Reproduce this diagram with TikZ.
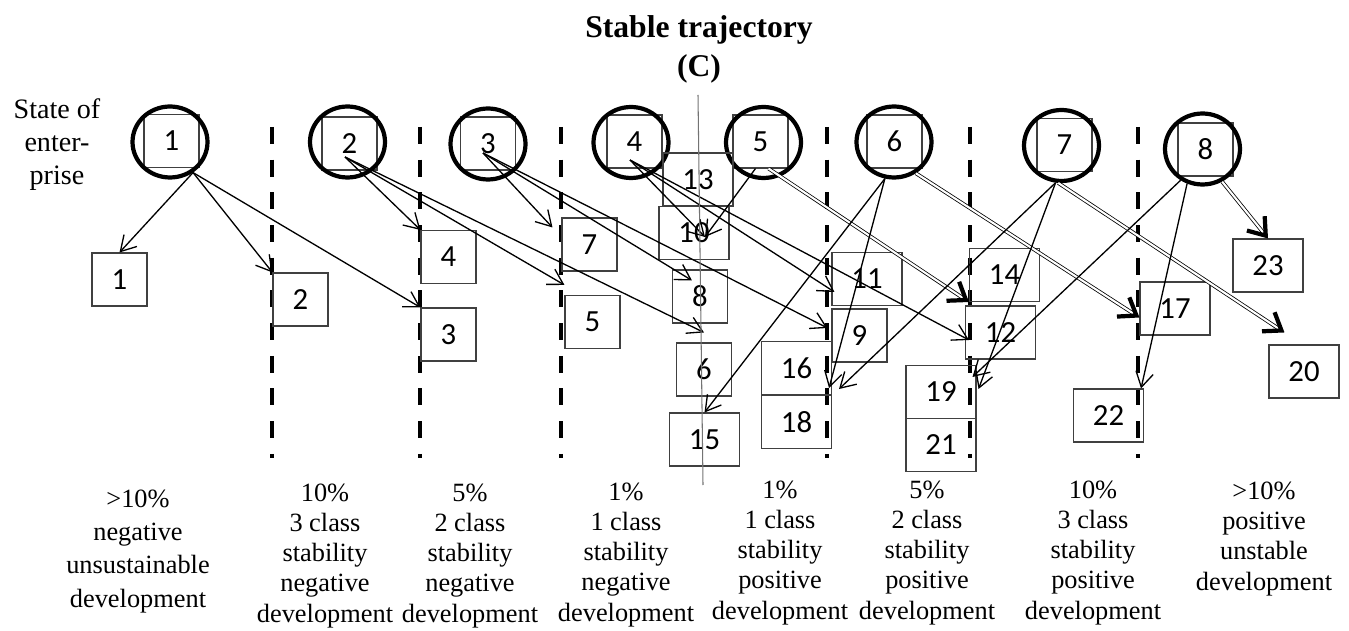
\documentclass[tikz,border=0pt]{standalone}
\usepackage{fontspec}
\setmainfont{Liberation Serif}
\newfontfamily\digitfont{Carlito}
\usetikzlibrary{arrows.meta, shapes.geometric}
\definecolor{boxgray}{RGB}{64,64,64}
\tikzset{
  state/.style={ellipse, draw, line width=2.4pt, minimum width=1.5cm, minimum height=1.42cm, inner sep=0pt},
  cell/.style={rectangle, draw=boxgray, line width=0.6pt, minimum width=1.1cm, minimum height=1.06cm, inner sep=0pt, font=\digitfont\fontsize{17.5}{20}\selectfont},
  wcell/.style={cell, minimum width=1.4cm},
  move/.style={-{Straight Barb[length=8.5pt, width=10pt]}, line width=0.75pt},
  jump/.style={double, double distance=1.2pt, line width=0.45pt, -{Straight Barb[length=9pt, width=13pt, line width=2.4pt]}},
  border/.style={line width=2.3pt, dash pattern=on 9.6pt off 9pt},
  zone/.style={align=center, anchor=base, font=\fontsize{15}{17.2}\selectfont},
}

\begin{document}
\begin{tikzpicture}[x=0.02cm, y=-0.02cm]
  \useasboundingbox (0,0) rectangle (1349,631);

  % zone borders
  \foreach \x in {272,420,561,827,970,1138}
    \draw[border] (\x,127) -- (\x,458);

  % states of the enterprise
  \foreach \n/\x/\y/\bx/\by in {1/170/142/171.5/141, 2/347.5/142/349.5/143.5, 3/488/144/488/143.5, 4/631/142.5/634.5/141.5,
      5/763.5/142.5/760.5/141.5, 6/894/142/894.5/141.5, 7/1061.5/145.5/1064.5/145, 8/1202.5/149/1205.5/149.5} {
    \node[cell] (q\n) at (\bx,\by) {\n};
    \node[state] (s\n) at (\x,\y) {};
  }

  % outcomes
  \foreach \n/\x/\y in {1/119.5/279.5, 2/300.5/299.5, 3/448.5/334.5, 4/448.5/257, 5/592.5/322,
      6/704/369.5, 7/589.5/244.5, 8/700/296.5, 9/859.5/335.5}
    \node[cell] (b\n) at (\x,\y) {\n};
  \foreach \n/\x/\y in {10/694/233, 11/867/279, 12/1000.5/332.5, 13/698/179.5, 14/1004.5/275,
      15/704.5/439.5, 16/796.5/368, 17/1175/308.5, 18/796.5/422, 19/941/392, 20/1304/371.5,
      21/941/445, 22/1108.5/415.5, 23/1268/265.5}
    \node[wcell] (b\n) at (\x,\y) {\n};

  % labels (base = last line)
  \node[align=center, anchor=base, font=\fontsize{16}{19}\selectfont] (state) at (57,185) {State of\\enter-\\prise};
  \node[align=center, anchor=base, font=\bfseries\fontsize{18}{22.7}\selectfont] (title) at (699,77) {Stable trajectory\\(C)};
  \node[zone, font=\fontsize{15}{18.9}\selectfont] (z1) at (138,607) {>10\%\\negative\\unsustainable\\development};
  \node[zone] (z2) at (325,622) {10\%\\3 class\\stability\\negative\\development};
  \node[zone] (z3) at (470,622) {5\%\\2 class\\stability\\negative\\development};
  \node[zone] (z4) at (626,621) {1\%\\1 class\\stability\\negative\\development};
  \node[zone] (z5) at (780,619) {1\%\\1 class\\stability\\positive\\development};
  \node[zone] (z6) at (927,619) {5\%\\2 class\\stability\\positive\\development};
  \node[zone] (z7) at (1093,619) {10\%\\3 class\\stability\\positive\\development};
  \node[zone] (z8) at (1264,590) {>10\%\\positive\\unstable\\development};

  % transitions
  \draw[move] (s1.-53) -- (b1.north);
  \draw[move] (s1.-53) -- (b2.north west);
  \draw[move] (s1.-53) -- (b3.north west);
  \draw[move] ([xshift=-0.09cm,yshift=-0.27cm]q2.center) -- (b4.north west);
  \draw[move] ([xshift=-0.09cm,yshift=-0.27cm]q2.center) -- ([yshift=0.2cm]b5.north west);
  \draw[move] ([xshift=-0.09cm,yshift=-0.27cm]q2.center) -- ([yshift=0.2cm]b6.north);
  \draw[move] ([xshift=-0.1cm,yshift=-0.19cm]q3.center) -- ([xshift=-0.18cm,yshift=-0.2cm]b7.north west);
  \draw[move] ([xshift=-0.1cm,yshift=-0.19cm]q3.center) -- ([xshift=0.4cm,yshift=-0.22cm]b8.north west);
  \draw[move] ([xshift=-0.1cm,yshift=-0.19cm]q3.center) -- ([xshift=-0.08cm,yshift=0.15cm]b9.west);
  \draw[move] ([xshift=-0.09cm,yshift=-0.37cm]q4.center) -- ([xshift=0.22cm,yshift=-0.08cm]b10.center);
  \draw[move] ([xshift=-0.09cm,yshift=-0.37cm]q4.center) -- ([xshift=0.06cm,yshift=-0.26cm]b11.west);
  \draw[move] ([xshift=-0.09cm,yshift=-0.37cm]q4.center) -- ([xshift=0.08cm,yshift=-0.15cm]b12.west);
  \draw[move] ([xshift=-0.1cm]q5.south) -- ([xshift=0.22cm,yshift=-0.08cm]b10.center);
  \draw[jump] ([xshift=0.16cm]q5.south) -- (b14.south west);
  \draw[move] (s6.-104) -- (b15.north);
  \draw[move] (s6.-104) -- ([xshift=-0.06cm,yshift=0.14cm]b16.south east);
  \draw[jump] (s6.-55) -- ([yshift=-0.18cm]b17.west);
  \draw[move] (s7.-99) -- ([xshift=0.14cm,yshift=0.12cm]b16.south east);
  \draw[move] (s7.-99) -- ([xshift=0.04cm,yshift=-0.48cm]b19.north east);
  \draw[jump] (s7.-95) -- ([xshift=0.32cm,yshift=0.24cm]b20.north west);
  \draw[move] (s8.-125) -- ([xshift=-0.08cm,yshift=-0.24cm]b19.north east);
  \draw[move] (s8.-114) -- ([xshift=-0.06cm]b22.north east);
  \draw[jump] (s8.-59) -- (b23.north);

  % stable trajectory
  \draw[black!55, line width=0.6pt] (698,95) -- (703,485);
\end{tikzpicture}
\end{document}
